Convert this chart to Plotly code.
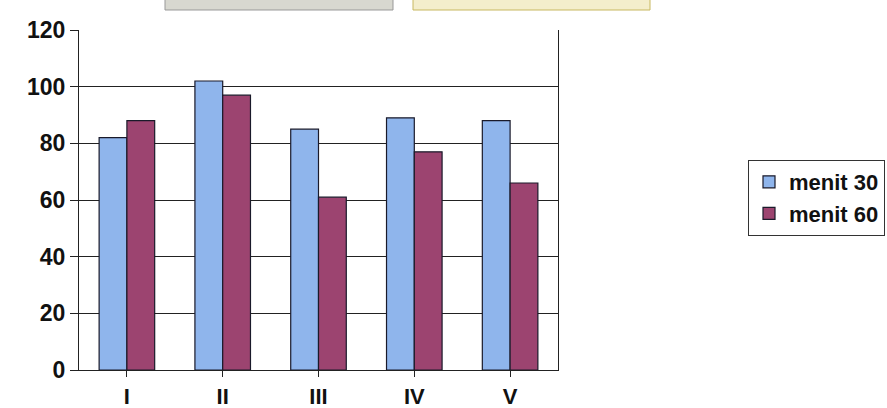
import plotly.graph_objects as go

categories = ["I", "II", "III", "IV", "V"]
menit_30 = [82, 102, 85, 89, 88]
menit_60 = [88, 97, 61, 77, 66]
y_ticks = [0, 20, 40, 60, 80, 100, 120]

L, R, T, B = 79, 329, 30, 38
W, H = 887, 408
PW, PH = W - L - R, H - T - B

fig = go.Figure()
fig.add_trace(go.Bar(x=categories, y=menit_30, name="menit 30",
                     marker=dict(color="#8fb5ec", line=dict(color="#1a1a2a", width=1.2))))
fig.add_trace(go.Bar(x=categories, y=menit_60, name="menit 60",
                     marker=dict(color="#9c4470", line=dict(color="#1a1a2a", width=1.2))))

fig.update_layout(
    width=W, height=H,
    margin=dict(l=L, r=R, t=T, b=B, autoexpand=False),
    paper_bgcolor="white", plot_bgcolor="white",
    barmode="group", bargap=0.42, bargroupgap=0.0,
    font=dict(family="Liberation Sans, Arial, sans-serif", size=22, color="#111"),
    showlegend=True,
    legend=dict(x=(748 - L) / PW, y=(H - B - 198) / PH, xanchor="left", yanchor="middle",
                bordercolor="#333", borderwidth=1, bgcolor="white",
                font=dict(size=22, color="#111", family="Liberation Sans, Arial, sans-serif", weight="bold"),
                itemwidth=30, tracegroupgap=0),
    shapes=[
        dict(type="rect", xref="paper", yref="paper", x0=(165 - L) / PW, x1=(393 - L) / PW,
             y0=(H - B - 10) / PH, y1=(H - B + 4) / PH, line=dict(color="#999", width=1), fillcolor="#d8d8d0"),
        dict(type="rect", xref="paper", yref="paper", x0=(413 - L) / PW, x1=(650 - L) / PW,
             y0=(H - B - 10) / PH, y1=(H - B + 4) / PH, line=dict(color="#c8b860", width=1), fillcolor="#f4eecc"),
    ],
)
fig.update_xaxes(showline=True, linecolor="#222", linewidth=1.2, mirror=False, automargin=False,
                 ticks="outside", ticklen=6, tickcolor="#222",
                 tickfont=dict(size=22, color="#111", weight="bold"),
                 showgrid=False)
fig.update_yaxes(range=[0, 120], tickvals=y_ticks, showline=True, linecolor="#222", linewidth=1.2,
                 mirror=True, ticks="outside", ticklen=8, tickcolor="#222", automargin=False,
                 tickfont=dict(size=23, color="#111", weight="bold"),
                 showgrid=True, gridcolor="#222", gridwidth=1, zeroline=False)

fig.write_html("out.html")
